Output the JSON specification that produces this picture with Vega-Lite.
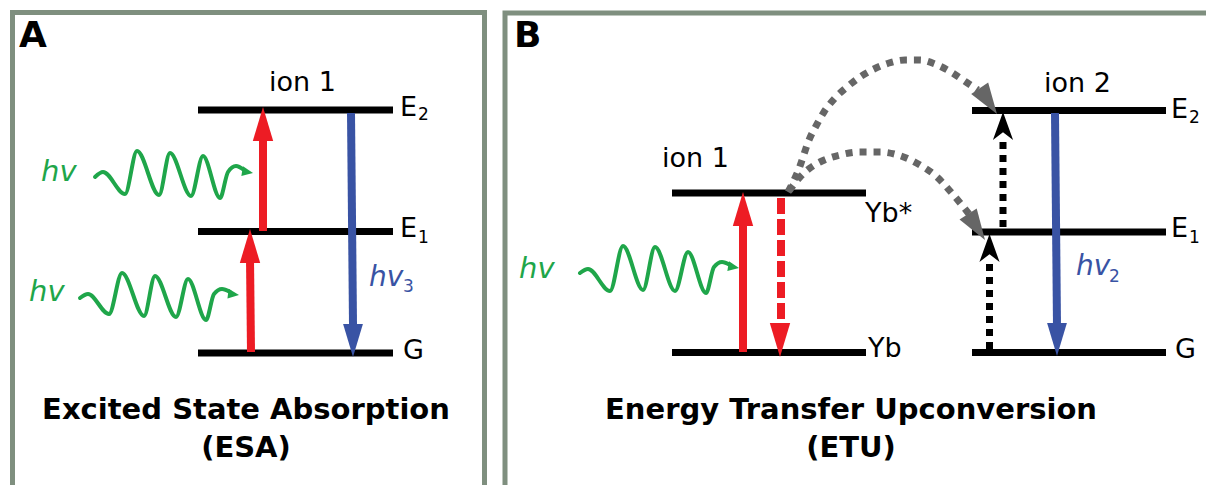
{
  "$schema": "https://vega.github.io/schema/vega-lite/v6.json",
  "width": 1206,
  "height": 485,
  "padding": 0,
  "autosize": {"type": "none"},
  "background": "white",
  "config": {"view": {"stroke": null}},
  "datasets": {
    "panels": [
      {"panel": "A", "x": 12.5, "x2": 484.5, "y": 12.5, "y2": 498},
      {"panel": "B", "x": 505, "x2": 1220, "y": 13, "y2": 498}
    ],
    "levels": [
      {"ion": "A ion 1", "level": "E2", "x": 198, "x2": 393, "y": 110},
      {"ion": "A ion 1", "level": "E1", "x": 198, "x2": 393, "y": 231.5},
      {"ion": "A ion 1", "level": "G", "x": 198, "x2": 393, "y": 353},
      {"ion": "B ion 1", "level": "Yb*", "x": 672, "x2": 866, "y": 193},
      {"ion": "B ion 1", "level": "Yb", "x": 672, "x2": 866, "y": 352.5},
      {"ion": "B ion 2", "level": "E2", "x": 972, "x2": 1166, "y": 110.5},
      {"ion": "B ion 2", "level": "E1", "x": 972, "x2": 1166, "y": 232},
      {"ion": "B ion 2", "level": "G", "x": 972, "x2": 1166, "y": 352.5}
    ],
    "shafts": [
      {"kind": "pump", "x": 251, "y": 352, "x2": 250, "y2": 258},
      {"kind": "pump", "x": 263, "y": 231, "x2": 263, "y2": 137},
      {"kind": "emit", "x": 351, "y": 113, "x2": 353, "y2": 324},
      {"kind": "pump", "x": 743, "y": 352, "x2": 743, "y2": 222},
      {"kind": "relax", "x": 781, "y": 198, "x2": 781, "y2": 324},
      {"kind": "transfer", "x": 989.5, "y": 349, "x2": 989.5, "y2": 262},
      {"kind": "transfer", "x": 1003, "y": 227, "x2": 1003, "y2": 140},
      {"kind": "emit", "x": 1055, "y": 113, "x2": 1057, "y2": 326}
    ],
    "heads": [
      {"kind": "pump", "x": 250, "y": 229, "angle": 0},
      {"kind": "pump", "x": 263, "y": 107, "angle": 0},
      {"kind": "emit", "x": 353, "y": 357, "angle": 180},
      {"kind": "pump", "x": 743, "y": 192, "angle": 0},
      {"kind": "relax", "x": 780, "y": 357, "angle": 180},
      {"kind": "emit", "x": 1057, "y": 356, "angle": 180},
      {"kind": "transfer", "x": 989.5, "y": 234, "angle": 0},
      {"kind": "transfer", "x": 1003, "y": 112, "angle": 0},
      {"kind": "hop", "x": 997, "y": 114, "angle": 146},
      {"kind": "hop", "x": 985, "y": 240, "angle": 147},
      {"kind": "photon", "x": 253, "y": 173, "angle": 100},
      {"kind": "photon", "x": 239, "y": 295, "angle": 97},
      {"kind": "photon", "x": 739, "y": 268, "angle": 100}
    ],
    "waves": [
      {"wave": "A upper", "x": 95, "y": 177},
      {"wave": "A upper", "x": 103, "y": 172},
      {"wave": "A upper", "x": 125, "y": 194},
      {"wave": "A upper", "x": 137, "y": 151},
      {"wave": "A upper", "x": 159, "y": 195},
      {"wave": "A upper", "x": 170, "y": 153},
      {"wave": "A upper", "x": 191, "y": 196},
      {"wave": "A upper", "x": 203, "y": 156},
      {"wave": "A upper", "x": 220, "y": 198},
      {"wave": "A upper", "x": 228, "y": 172},
      {"wave": "A upper", "x": 236, "y": 166},
      {"wave": "A upper", "x": 244, "y": 170},
      {"wave": "A lower", "x": 80, "y": 298},
      {"wave": "A lower", "x": 88, "y": 294},
      {"wave": "A lower", "x": 109, "y": 314},
      {"wave": "A lower", "x": 122, "y": 273},
      {"wave": "A lower", "x": 144, "y": 316},
      {"wave": "A lower", "x": 155, "y": 276},
      {"wave": "A lower", "x": 176, "y": 317},
      {"wave": "A lower", "x": 188, "y": 279},
      {"wave": "A lower", "x": 206, "y": 320},
      {"wave": "A lower", "x": 214, "y": 294},
      {"wave": "A lower", "x": 222, "y": 289},
      {"wave": "A lower", "x": 230, "y": 292},
      {"wave": "B", "x": 580, "y": 273},
      {"wave": "B", "x": 588, "y": 269},
      {"wave": "B", "x": 610, "y": 291},
      {"wave": "B", "x": 623, "y": 246},
      {"wave": "B", "x": 643, "y": 290},
      {"wave": "B", "x": 655, "y": 247},
      {"wave": "B", "x": 675, "y": 291},
      {"wave": "B", "x": 688, "y": 252},
      {"wave": "B", "x": 706, "y": 293},
      {"wave": "B", "x": 714, "y": 267},
      {"wave": "B", "x": 722, "y": 262},
      {"wave": "B", "x": 730, "y": 265}
    ],
    "curves": [
      {"curve": "to E2", "x": 788, "y": 192},
      {"curve": "to E2", "x": 795, "y": 178},
      {"curve": "to E2", "x": 800, "y": 166},
      {"curve": "to E2", "x": 804, "y": 154},
      {"curve": "to E2", "x": 809, "y": 140},
      {"curve": "to E2", "x": 816, "y": 126},
      {"curve": "to E2", "x": 824, "y": 112},
      {"curve": "to E2", "x": 835, "y": 98},
      {"curve": "to E2", "x": 847, "y": 87},
      {"curve": "to E2", "x": 860, "y": 77},
      {"curve": "to E2", "x": 874, "y": 69},
      {"curve": "to E2", "x": 889, "y": 63},
      {"curve": "to E2", "x": 905, "y": 60},
      {"curve": "to E2", "x": 920, "y": 60},
      {"curve": "to E2", "x": 935, "y": 64},
      {"curve": "to E2", "x": 951, "y": 72},
      {"curve": "to E2", "x": 966, "y": 82},
      {"curve": "to E2", "x": 978, "y": 90},
      {"curve": "to E1", "x": 789, "y": 191},
      {"curve": "to E1", "x": 800, "y": 177},
      {"curve": "to E1", "x": 810, "y": 168},
      {"curve": "to E1", "x": 822, "y": 161},
      {"curve": "to E1", "x": 840, "y": 155},
      {"curve": "to E1", "x": 860, "y": 152},
      {"curve": "to E1", "x": 880, "y": 152},
      {"curve": "to E1", "x": 898, "y": 155},
      {"curve": "to E1", "x": 920, "y": 165},
      {"curve": "to E1", "x": 937, "y": 177},
      {"curve": "to E1", "x": 950, "y": 191},
      {"curve": "to E1", "x": 961, "y": 204},
      {"curve": "to E1", "x": 969, "y": 214}
    ],
    "letters": [
      {"text": "A", "x": 19, "y": 47},
      {"text": "B", "x": 514, "y": 47}
    ],
    "titles": [
      {"text": "Excited State Absorption", "x": 246, "y": 419},
      {"text": "(ESA)", "x": 246, "y": 457},
      {"text": "Energy Transfer Upconversion", "x": 851, "y": 419},
      {"text": "(ETU)", "x": 851, "y": 457}
    ],
    "labels": [
      {"text": "ion 1", "x": 269, "y": 91},
      {"text": "E", "x": 400, "y": 116},
      {"text": "E", "x": 400, "y": 237},
      {"text": "G", "x": 403, "y": 359},
      {"text": "ion 1", "x": 662, "y": 167},
      {"text": "Yb*", "x": 865, "y": 222},
      {"text": "Yb", "x": 868, "y": 357},
      {"text": "ion 2", "x": 1044, "y": 92},
      {"text": "E", "x": 1171, "y": 118},
      {"text": "E", "x": 1171, "y": 237},
      {"text": "G", "x": 1175, "y": 358}
    ],
    "subs": [
      {"text": "2", "x": 418, "y": 120},
      {"text": "1", "x": 418, "y": 243},
      {"text": "2", "x": 1189, "y": 123},
      {"text": "1", "x": 1189, "y": 243}
    ],
    "greenHv": [
      {"text": "hv", "x": 41, "y": 181},
      {"text": "hv", "x": 29, "y": 301},
      {"text": "hv", "x": 519, "y": 278}
    ],
    "blueHv": [
      {"text": "hv", "x": 369, "y": 286},
      {"text": "hv", "x": 1076, "y": 275}
    ],
    "blueSubs": [
      {"text": "3", "x": 403, "y": 292},
      {"text": "2", "x": 1109, "y": 282}
    ]
  },
  "encoding": {
    "x": {"field": "x", "type": "quantitative", "scale": {"domain": [0, 1206], "nice": false, "zero": false}, "axis": null},
    "y": {"field": "y", "type": "quantitative", "scale": {"domain": [0, 485], "nice": false, "zero": false, "reverse": true}, "axis": null}
  },
  "layer": [
    {
      "data": {"name": "panels"},
      "mark": {"type": "rect", "fill": "white", "fillOpacity": 0, "stroke": "#7f8f7f", "strokeWidth": 5},
      "encoding": {"x2": {"field": "x2"}, "y2": {"field": "y2"}}
    },
    {
      "data": {"name": "levels"},
      "mark": {"type": "rule", "color": "black", "strokeWidth": 7, "strokeCap": "butt"},
      "encoding": {"x2": {"field": "x2"}}
    },
    {
      "data": {"name": "shafts"},
      "transform": [{"filter": "datum.kind === 'pump'"}],
      "mark": {"type": "rule", "color": "#ed1c24", "strokeWidth": 8, "strokeCap": "butt"},
      "encoding": {"x2": {"field": "x2"}, "y2": {"field": "y2"}}
    },
    {
      "data": {"name": "shafts"},
      "transform": [{"filter": "datum.kind === 'relax'"}],
      "mark": {"type": "rule", "color": "#ed1c24", "strokeWidth": 8, "strokeCap": "butt", "strokeDash": [16, 5]},
      "encoding": {"x2": {"field": "x2"}, "y2": {"field": "y2"}}
    },
    {
      "data": {"name": "shafts"},
      "transform": [{"filter": "datum.kind === 'transfer'"}],
      "mark": {"type": "rule", "color": "black", "strokeWidth": 7, "strokeCap": "butt", "strokeDash": [7, 6]},
      "encoding": {"x2": {"field": "x2"}, "y2": {"field": "y2"}}
    },
    {
      "data": {"name": "shafts"},
      "transform": [{"filter": "datum.kind === 'emit'"}],
      "mark": {"type": "rule", "color": "#3953a4", "strokeWidth": 8, "strokeCap": "butt"},
      "encoding": {"x2": {"field": "x2"}, "y2": {"field": "y2"}}
    },
    {
      "data": {"name": "heads"},
      "transform": [{"filter": "datum.kind === 'pump' || datum.kind === 'relax'"}],
      "mark": {"type": "point", "filled": true, "opacity": 1, "color": "#ed1c24", "strokeWidth": 0, "shape": "M0,0 L0.3,1 L-0.3,1 Z", "size": 4624},
      "encoding": {"angle": {"field": "angle", "type": "quantitative", "scale": null}}
    },
    {
      "data": {"name": "heads"},
      "transform": [{"filter": "datum.kind === 'emit'"}],
      "mark": {"type": "point", "filled": true, "opacity": 1, "color": "#3953a4", "strokeWidth": 0, "shape": "M0,0 L0.3,1 L-0.3,1 Z", "size": 4356},
      "encoding": {"angle": {"field": "angle", "type": "quantitative", "scale": null}}
    },
    {
      "data": {"name": "heads"},
      "transform": [{"filter": "datum.kind === 'transfer'"}],
      "mark": {"type": "point", "filled": true, "opacity": 1, "color": "black", "strokeWidth": 0, "shape": "M0,0 L0.36,1 L0,0.72 L-0.36,1 Z", "size": 3136},
      "encoding": {"angle": {"field": "angle", "type": "quantitative", "scale": null}}
    },
    {
      "data": {"name": "waves"},
      "mark": {"type": "line", "color": "#1fa64a", "strokeWidth": 4, "interpolate": "monotone", "strokeCap": "round"},
      "encoding": {"detail": {"field": "wave"}}
    },
    {
      "data": {"name": "heads"},
      "transform": [{"filter": "datum.kind === 'photon'"}],
      "mark": {"type": "point", "filled": true, "opacity": 1, "color": "#1fa64a", "strokeWidth": 0, "shape": "M0,0 L0.45,1 L-0.45,1 Z", "size": 484},
      "encoding": {"angle": {"field": "angle", "type": "quantitative", "scale": null}}
    },
    {
      "data": {"name": "curves"},
      "mark": {"type": "line", "color": "#666666", "strokeWidth": 7, "interpolate": "monotone", "strokeCap": "butt", "strokeDash": [7, 7]},
      "encoding": {"detail": {"field": "curve"}}
    },
    {
      "data": {"name": "heads"},
      "transform": [{"filter": "datum.kind === 'hop'"}],
      "mark": {"type": "point", "filled": true, "opacity": 1, "color": "#666666", "strokeWidth": 0, "shape": "M0,0 L0.33,1 L-0.33,1 Z", "size": 3844},
      "encoding": {"angle": {"field": "angle", "type": "quantitative", "scale": null}}
    },
    {
      "data": {"name": "letters"},
      "mark": {"type": "text", "font": "DejaVu Sans", "fontWeight": "bold", "fontSize": 36, "align": "left", "baseline": "alphabetic", "color": "black"},
      "encoding": {"text": {"field": "text"}}
    },
    {
      "data": {"name": "titles"},
      "mark": {"type": "text", "font": "DejaVu Sans", "fontWeight": "bold", "fontSize": 29, "align": "center", "baseline": "alphabetic", "color": "black"},
      "encoding": {"text": {"field": "text"}}
    },
    {
      "data": {"name": "labels"},
      "mark": {"type": "text", "font": "DejaVu Sans", "fontSize": 27, "align": "left", "baseline": "alphabetic", "color": "black"},
      "encoding": {"text": {"field": "text"}}
    },
    {
      "data": {"name": "subs"},
      "mark": {"type": "text", "font": "DejaVu Sans", "fontSize": 17, "align": "left", "baseline": "alphabetic", "color": "black"},
      "encoding": {"text": {"field": "text"}}
    },
    {
      "data": {"name": "greenHv"},
      "mark": {"type": "text", "font": "DejaVu Sans", "fontStyle": "italic", "fontSize": 29, "align": "left", "baseline": "alphabetic", "color": "#1fa64a"},
      "encoding": {"text": {"field": "text"}}
    },
    {
      "data": {"name": "blueHv"},
      "mark": {"type": "text", "font": "DejaVu Sans", "fontStyle": "italic", "fontSize": 28, "align": "left", "baseline": "alphabetic", "color": "#3953a4"},
      "encoding": {"text": {"field": "text"}}
    },
    {
      "data": {"name": "blueSubs"},
      "mark": {"type": "text", "font": "DejaVu Sans", "fontSize": 17, "align": "left", "baseline": "alphabetic", "color": "#3953a4"},
      "encoding": {"text": {"field": "text"}}
    }
  ]
}
